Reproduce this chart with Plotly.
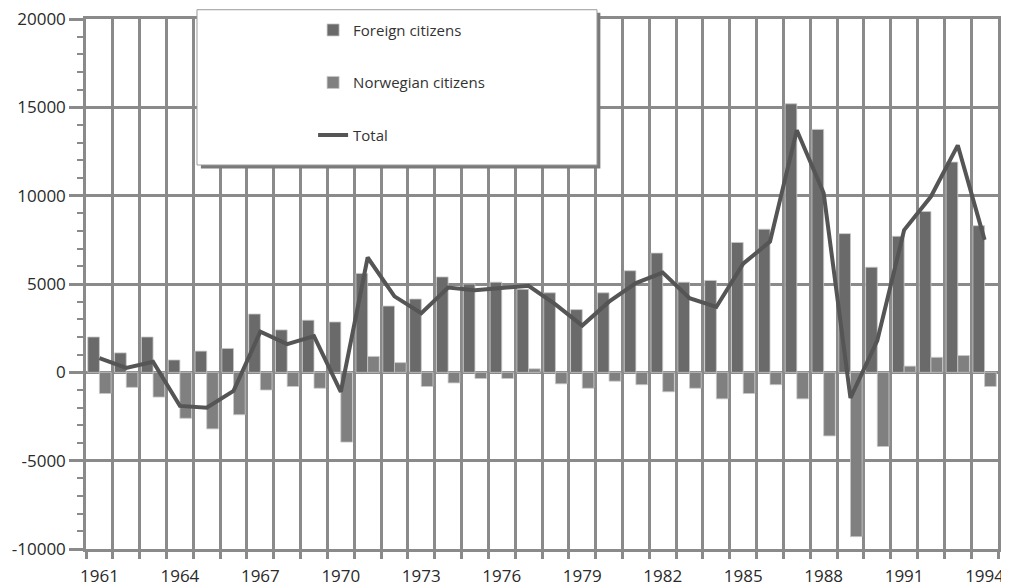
import plotly.graph_objects as go

# net migration, 1961-1994
years = list(range(1961, 1995))
foreign = [2000, 1100, 2000, 700, 1200, 1350, 3300, 2400, 2950, 2850,
           5600, 3750, 4150, 5400, 5000, 5100, 4700, 4500, 3550, 4500,
           5750, 6750, 5100, 5200, 7350, 8100, 15200, 13750, 7850, 5950,
           7700, 9100, 11900, 8300]
norwegian = [-1200, -850, -1400, -2600, -3200, -2400, -1000, -800, -900, -3950,
             900, 550, -800, -600, -350, -350, 200, -650, -900, -500,
             -700, -1100, -900, -1500, -1200, -700, -1500, -3600, -9300, -4200,
             350, 850, 950, -800]
total = [800, 250, 600, -1900, -2000, -1050, 2300, 1600, 2050, -1100,
         6500, 4300, 3350, 4800, 4650, 4750, 4900, 3850, 2650, 4000,
         5050, 5650, 4200, 3700, 6150, 7400, 13700, 10150, -1450, 1800,
         8050, 9950, 12850, 7500]
year_labels = list(range(1961, 1995, 3))
y_ticks = [-10000, -5000, 0, 5000, 10000, 15000, 20000]
y_labels = ["-10000", "-5000", "0", "5000", "10000", "15000", "20000"]

grid = "#8a8a8a"
font = "Open Sans, DejaVu Sans, sans-serif"

fig = go.Figure(
    data=[
        go.Bar(
            name="Foreign citizens",
            x=years,
            y=foreign,
            marker=dict(color="#6a6a6a", line=dict(color="#c8c8c8", width=0.8)),
            legendgroup="a",
        ),
        go.Bar(
            name="Norwegian citizens",
            x=years,
            y=norwegian,
            marker=dict(color="#808080", line=dict(color="#c8c8c8", width=0.8)),
            legendgroup="b",
        ),
        go.Scatter(
            name="Total",
            x=years,
            y=total,
            mode="lines",
            line=dict(color="#555555", width=4),
            legendgroup="c",
        ),
    ]
)

# legend frame with a drop shadow
fig.add_shape(type="rect", xref="paper", yref="paper",
              x0=0.126, x1=0.564, y0=0.718, y1=1.012,
              fillcolor="#7a7a7a", line=dict(width=0), layer="above")
fig.add_shape(type="rect", xref="paper", yref="paper",
              x0=0.1217, x1=0.5603, y0=0.7245, y1=1.0175,
              fillcolor="white", line=dict(color="#9a9a9a", width=1), layer="above")

fig.update_layout(
    width=1001,
    height=579,
    margin=dict(l=78, r=11, t=11, b=38, autoexpand=False),
    plot_bgcolor="white",
    paper_bgcolor="white",
    barmode="group",
    bargap=0.13,
    bargroupgap=0,
    font=dict(family=font, size=17, color="#2a2a2a"),
    legend=dict(
        x=0.249, y=1.010, xanchor="left", yanchor="top",
        bgcolor="rgba(0,0,0,0)",
        font=dict(size=15, color="#333"),
        tracegroupgap=30,
        traceorder="grouped",
    ),
    xaxis=dict(
        range=[1960.5, 1994.5],
        tickvals=year_labels,
        ticks="",
        ticklabelstandoff=10,
        showgrid=False,
        automargin=False,
        ticklabeloverflow="allow",
        showline=True, linecolor=grid, linewidth=2.5, mirror=True,
        minor=dict(tick0=1960.5, dtick=1, ticks="outside", ticklen=7,
                   tickwidth=2.5, tickcolor=grid,
                   showgrid=True, gridcolor=grid, gridwidth=2.5),
        tickfont=dict(size=17),
    ),
    yaxis=dict(
        range=[-10000, 20000],
        tickvals=y_ticks,
        ticktext=y_labels,
        ticks="outside", ticklen=14, tickwidth=2.5, tickcolor=grid,
        showgrid=True, gridcolor=grid, gridwidth=2.5,
        zeroline=True, zerolinecolor=grid, zerolinewidth=2.5,
        automargin=False,
        ticklabeloverflow="allow",
        showline=True, linecolor=grid, linewidth=2.5, mirror=True,
        minor=dict(dtick=1000, ticks="outside", ticklen=6,
                   tickwidth=2, tickcolor=grid, showgrid=False),
        tickfont=dict(size=17),
    ),
)

fig.write_html("out.html")
